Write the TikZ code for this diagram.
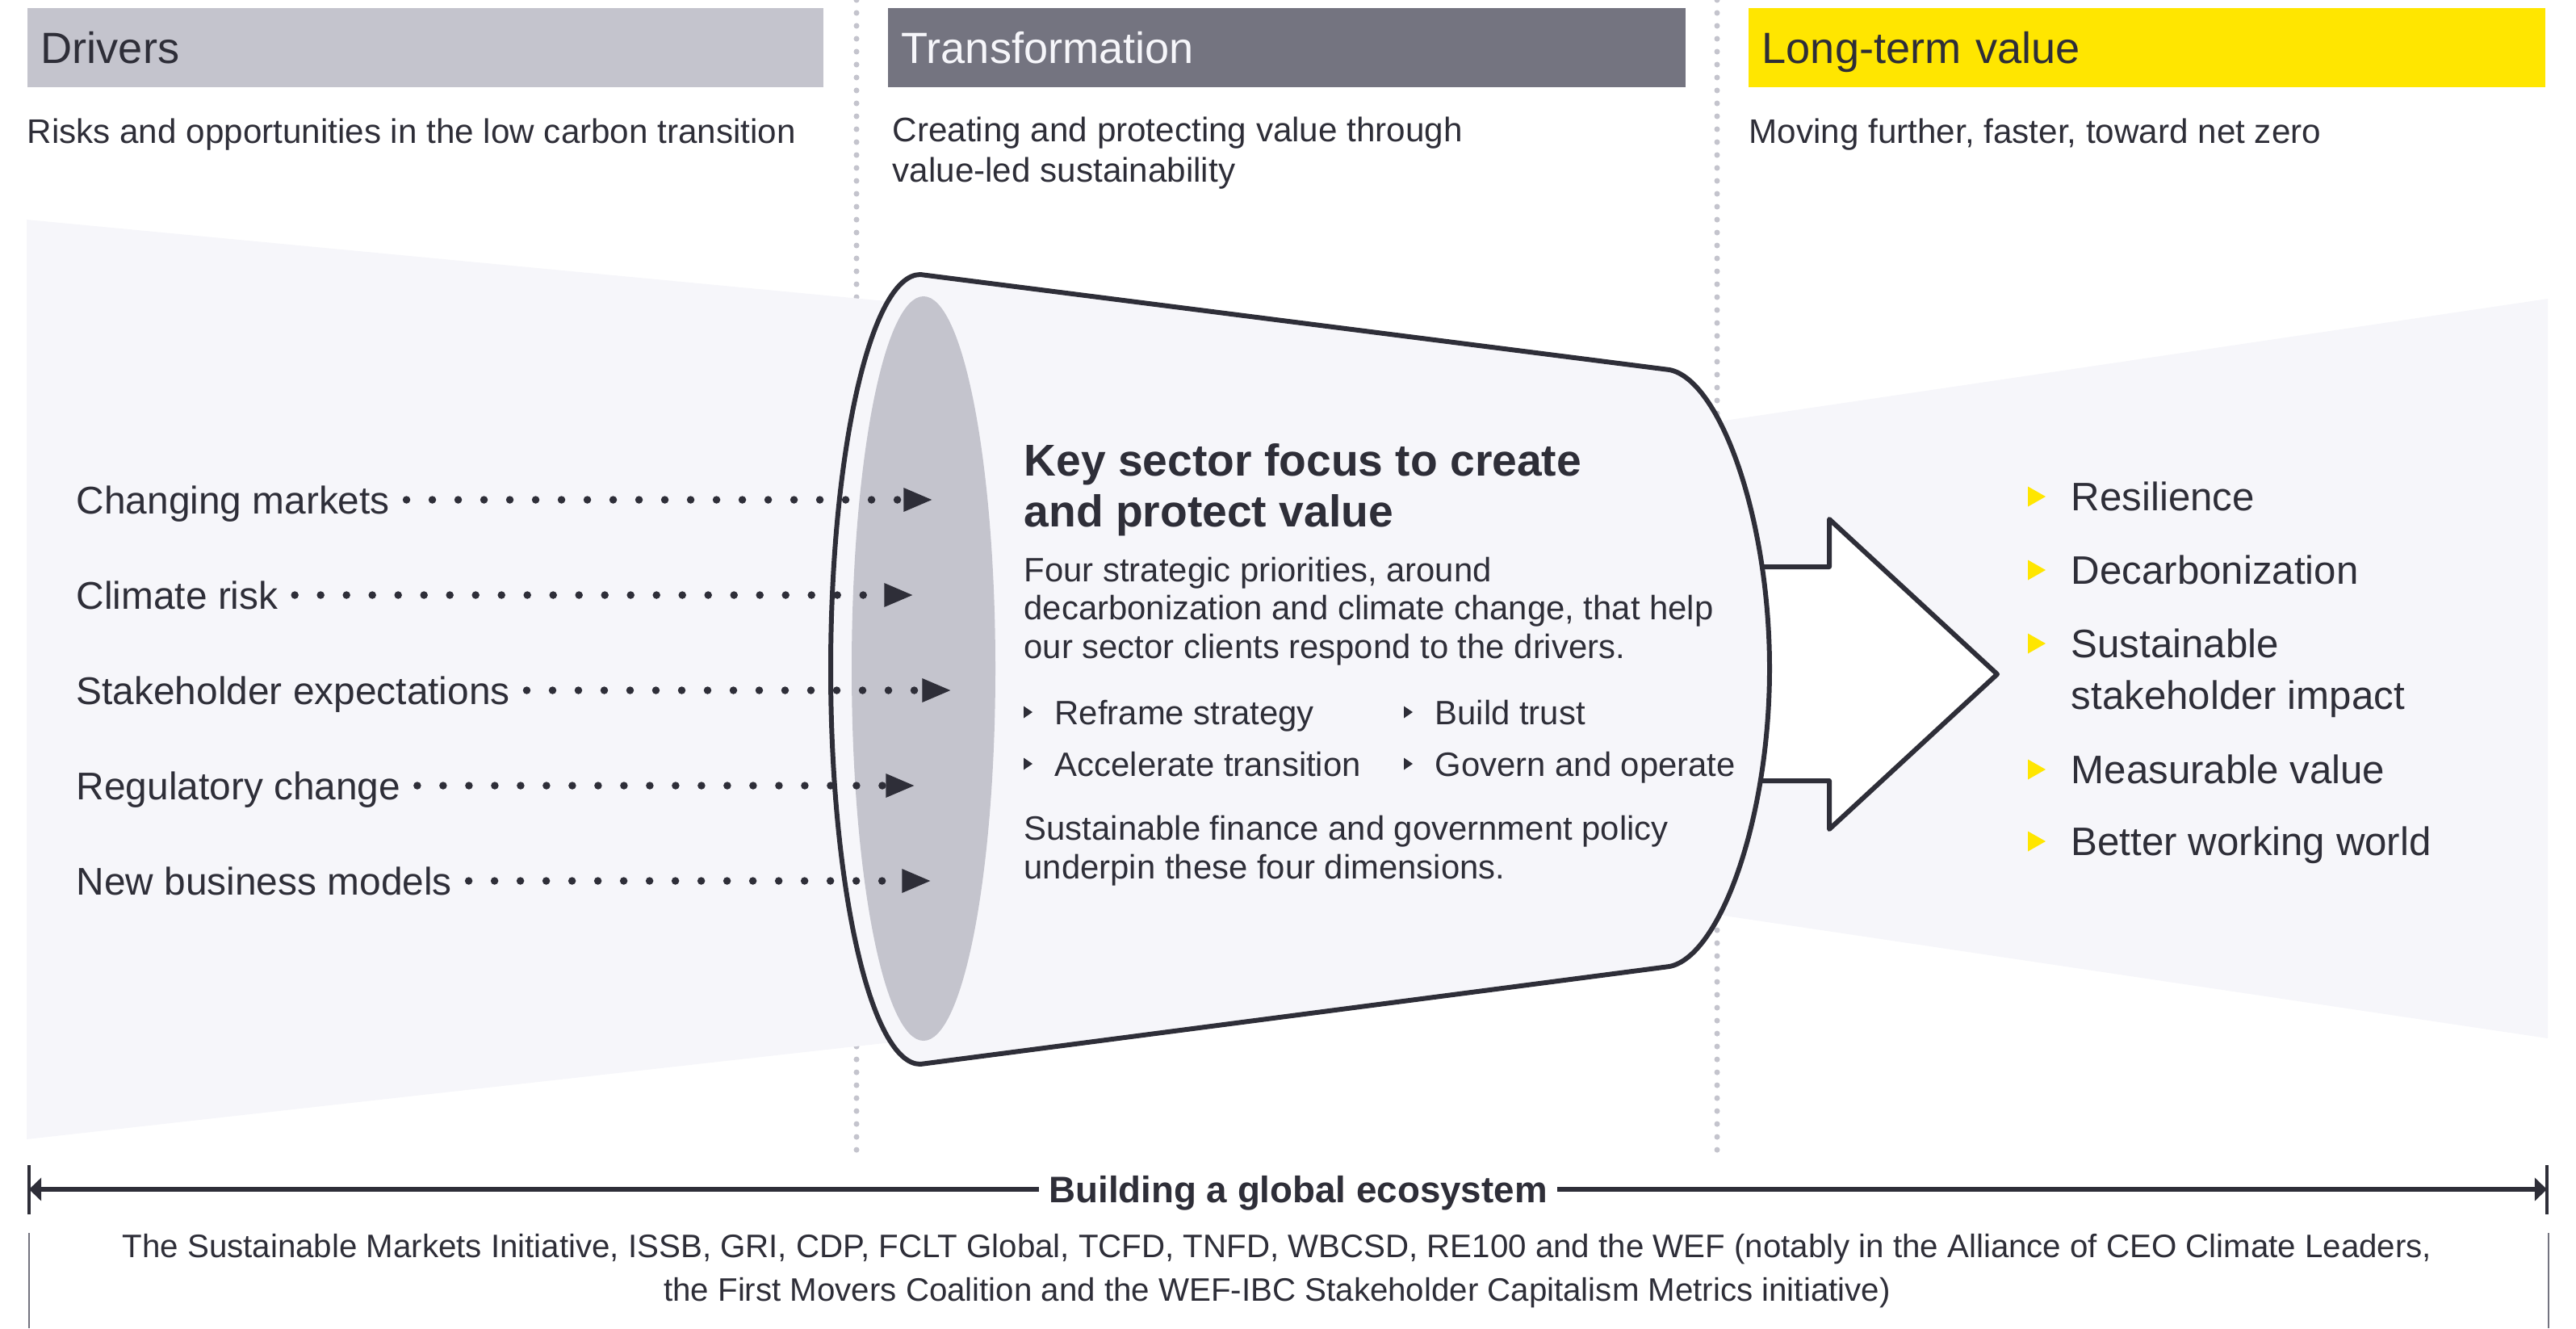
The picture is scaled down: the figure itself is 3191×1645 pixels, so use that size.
\documentclass[tikz,border=0pt]{standalone}
\usepackage{fontspec}
\setmainfont{Liberation Sans}
\usetikzlibrary{arrows.meta}

\definecolor{eydark}{HTML}{2E2E38}
\definecolor{eygrey}{HTML}{C4C4CD}
\definecolor{eymid}{HTML}{747480}
\definecolor{eyyellow}{HTML}{FFE600}
\definecolor{eylight}{HTML}{F6F6FA}

\tikzset{
  header/.style={anchor=north west,minimum height=0.98cm,inner xsep=0.17cm,inner ysep=0pt,
    text height=0.39cm,text depth=0pt,align=left,font=\fontsize{15.4}{18}\selectfont},
  subtitle/.style={anchor=base west,inner sep=0pt,align=left,text=eydark,
    font=\fontsize{12}{14}\selectfont},
  driver/.style={anchor=west,inner sep=0pt,text height=0.34cm,text depth=0pt,text=eydark,
    font=\fontsize{13.6}{16}\selectfont},
  dotarrow/.style={eydark,line width=2.7pt,line cap=round,dash pattern=on 0pt off 9.1pt,
    -{Triangle[length=10.4pt,width=7.6pt]}},
  vdots/.style={eygrey,line width=2pt,line cap=round,dash pattern=on 0pt off 4.55pt},
  outline/.style={draw=eydark,line width=1.7pt,line join=round},
  ktitle/.style={anchor=base west,inner sep=0pt,align=left,text=eydark,
    font=\bfseries\fontsize{15.7}{17.9}\selectfont},
  kbody/.style={anchor=base west,inner sep=0pt,align=left,text=eydark,
    font=\fontsize{11.9}{13.5}\selectfont},
  value/.style={anchor=base west,inner sep=0pt,align=left,text=eydark,
    font=\fontsize{14}{18}\selectfont},
  eco/.style={inner xsep=0.12cm,inner ysep=0pt,text height=0.32cm,text depth=0pt,text=eydark,
    font=\bfseries\fontsize{13}{15}\selectfont},
  ecoline/.style={eydark,line width=1.6pt,-{Triangle[length=4.3pt,width=8pt]}},
  ecotext/.style={anchor=base,inner sep=0pt,align=center,text=eydark,
    font=\fontsize{11.45}{15.1}\selectfont},
  smalltri/.pic={\fill[eydark] (-5,-7.5) -- (6,0) -- (-5,7.5) -- cycle;},
  yeltri/.pic={\fill[eyyellow] (-11,-12.5) -- (11,0) -- (-11,12.5) -- cycle;}
}

\begin{document}
\begin{tikzpicture}[x=0.01cm,y=-0.01cm]
\useasboundingbox (0,0) rectangle (3191,1645);

% column separators
\draw[vdots] (1061,0) -- (1061,1438);
\draw[vdots] (2127,0) -- (2127,1438);

% column headers
\node[header,fill=eygrey,text=eydark,text width=9.52cm] (hdrv) at (33,9) {Drivers};
\node[header,fill=eymid,text=eylight,text width=9.54cm] (htrf) at (1099,9) {Transformation};
\node[header,fill=eyyellow,text=eydark,text width=9.53cm] (hval) at (2165,9) {Long-term value};

\node[subtitle] (sdrv) at (33,177) {Risks and opportunities in the low carbon transition};
\node[subtitle] (strf) at (1105,225) {Creating and protecting value through\\value-led sustainability};
\node[subtitle] (sval) at (2166,177) {Moving further, faster, toward net zero};

% light bands
\fill[eylight] (33,272) -- (1140,377) -- (1140,1287) -- (33,1411) -- cycle;
\fill[eylight] (2068,531) -- (3156,370) -- (3156,1286) -- (2068,1124) -- cycle;

% output arrow
\draw[outline,fill=white] (2100,702) -- (2266,702) -- (2266,643) -- (2474,835)
  -- (2266,1027) -- (2266,967) -- (2100,967) -- cycle;

% the cone
\draw[outline,fill=eylight] (1140,340) -- (2068,458)
  .. controls (2130,470) and (2192,640) .. (2192,828)
  .. controls (2192,1016) and (2130,1185) .. (2068,1197)
  -- (1140,1318)
  .. controls (1079,1318) and (1029,1099) .. (1029,829)
  .. controls (1029,559) and (1079,340) .. (1140,340) -- cycle;
\fill[eygrey] (1144,828) ellipse[x radius=89,y radius=461];

% drivers
\foreach \name/\txt/\y/\tip in {dcm/Changing markets/619/1156, dcr/Climate risk/737/1132,
    dse/Stakeholder expectations/855/1179, drc/Regulatory change/973/1134,
    dnb/New business models/1091/1154}{
  \node[driver] (\name) at (94,\y) {\txt};
  \coordinate (\name-tip) at (\tip,\y);
  \draw[dotarrow] ([xshift=0.2cm]\name.east) -- (\name-tip);
}

% key sector focus
\node[ktitle] (ktit) at (1268,652) {Key sector focus to create\\and protect value};
\node[kbody] (kpri) at (1268,815) {Four strategic priorities, around\\decarbonization and climate change, that help\\our sector clients respond to the drivers.};
\foreach \name/\txt/\x/\y in {kb1/Reframe strategy/1306/897, kb2/Build trust/1777/897,
    kb3/Accelerate transition/1306/961, kb4/Govern and operate/1777/961}{
  \node[kbody] (\name) at (\x,\y) {\txt};
  \pic at (\x-33,\y-15) {smalltri};
}
\node[kbody] (kfin) at (1268,1088) {Sustainable finance and government policy\\underpin these four dimensions.};

% long-term values
\foreach \name/\txt/\y in {v1/Resilience/632, v2/Decarbonization/723,
    v3/{Sustainable\\stakeholder impact}/878, v4/Measurable value/970, v5/Better working world/1059}{
  \node[value] (\name) at (2565,\y) {\txt};
}
\foreach \y in {615,706,797,953,1042}
  \pic at (2523,\y) {yeltri};

% global ecosystem
\coordinate (ecol) at (36,1473);
\coordinate (ecor) at (3155,1473);
\node[eco] (ecot) at (1608,1473) {Building a global ecosystem};
\draw[ecoline] (ecot.west) -- (ecol);
\draw[ecoline] (ecot.east) -- (ecor);
\draw[eydark,line width=1.1pt] (36,1443) -- (36,1504);
\draw[eydark,line width=1.1pt] (3155,1443) -- (3155,1504);
\node[ecotext] (ecop) at (1582,1611) {The Sustainable Markets Initiative, ISSB, GRI, CDP, FCLT Global, TCFD, TNFD, WBCSD, RE100 and the WEF (notably in the Alliance of CEO Climate Leaders,\\the First Movers Coalition and the WEF-IBC Stakeholder Capitalism Metrics initiative)};
\draw[eymid,line width=0.6pt] (36,1527) -- (36,1645);
\draw[eymid,line width=0.6pt] (3157,1527) -- (3157,1645);
\end{tikzpicture}
\end{document}
